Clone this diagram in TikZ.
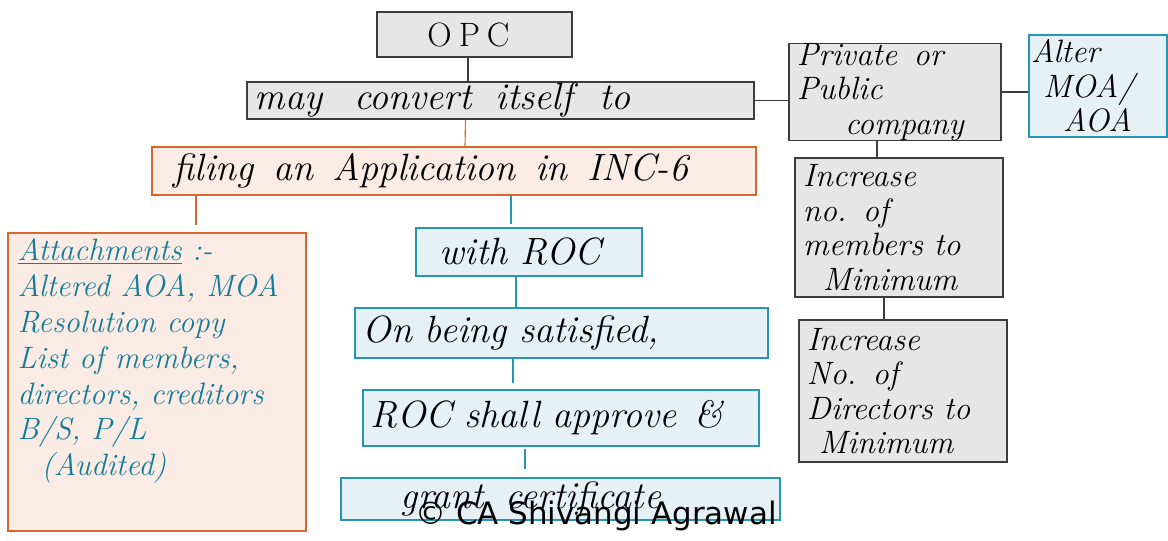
\documentclass[tikz,border=0pt]{standalone}
\usepackage{fontspec}
\usetikzlibrary{calc}

\newfontfamily\markfont{DejaVu Sans}
\newcommand\linefont{\itshape\fontsize{27}{29}\selectfont\addfontfeatures{LetterSpace=5}}
\newcommand\stackfont{\itshape\fontsize{23}{24.5}\selectfont\addfontfeatures{LetterSpace=10}}
\newcommand\listfont{\itshape\fontsize{22}{25.5}\selectfont\addfontfeatures{LetterSpace=5}}

\definecolor{boxgray}{HTML}{E6E6E6}
\definecolor{linegray}{HTML}{3C3C3C}
\definecolor{boxpeach}{HTML}{FAECE5}
\definecolor{lineorange}{HTML}{D6682D}
\definecolor{boxblue}{HTML}{E6F1F6}
\definecolor{lineblue}{HTML}{2596B5}
\definecolor{textteal}{HTML}{147C98}

\tikzset{
    graybox/.style={rectangle, draw=linegray, fill=boxgray, line width=0.9pt,
        inner xsep=0.2cm, inner ysep=0pt, align=left},
    peachbox/.style={graybox, draw=lineorange, fill=boxpeach},
    bluebox/.style={graybox, draw=lineblue, fill=boxblue},
    graylink/.style={draw=linegray, line width=0.8pt},
    orangelink/.style={draw=lineorange, line width=0.8pt},
    bluelink/.style={draw=lineblue, line width=0.8pt}
}

\begin{document}
\begin{tikzpicture}[x=0.025cm, y=-0.025cm]

    \useasboundingbox (0,0) rectangle (1168,540);

    % Left column: OPC and the steps of the conversion
    \node[graybox, align=center, minimum width=4.875cm, minimum height=1.125cm, font=\fontsize{24}{26}\selectfont] (opc) at (474.5,34.5) {\hspace{-0.3cm}O\hspace{5pt}P\hspace{5pt}C};
    \node[graybox, text width=12.275cm, minimum height=0.925cm, font=\linefont] (conv) at (500.5,100.5) {may\hspace{14pt} convert\hspace{8pt} itself\hspace{10pt} to};
    \node[peachbox, text width=14.7cm, minimum height=1.2cm, font=\linefont] (filing) at (454,171) {\hspace{0.35cm}filing\hspace{5pt} an\hspace{5pt} Application\hspace{5pt} in\hspace{5pt} INC-6};

    % Attachments box with its list
    \node[peachbox, minimum width=7.45cm, minimum height=7.45cm] (attach) at (157,382) {};
    \node[anchor=north west, align=left, text=textteal, inner sep=0pt, font=\listfont] (attachlist) at ($(attach.north west)+(10,6)$)
        {\underline{Attachments} :-\\
         Altered AOA, MOA\\
         Resolution copy\\
         List of members,\\
         directors, creditors\\
         B/S, P/L\\
         \hspace{0.6cm}(Audited)};

    % ROC steps
    \node[bluebox, text width=5.25cm, minimum height=1.2cm, font=\linefont] (roc) at (529,252) {\hspace{0.4cm}with ROC};
    \node[bluebox, text width=9.925cm, minimum height=1.25cm, font=\linefont] (satisf) at (561.5,333) {On being satisfied,};
    \node[bluebox, text width=9.5cm, minimum height=1.4cm, font=\linefont] (approve) at (561,418) {ROC shall approve\hspace{4pt} \&};
    \node[bluebox, text width=10.575cm, minimum height=1.05cm, font=\linefont] (grant) at (560.5,499) {\hspace{1.3cm}grant\hspace{6pt} certificate};

    % Right column: requirements
    \node[graybox, text width=4.9cm, minimum height=2.35cm, font=\stackfont] (private) at (895,92)
        {Private\hspace{4pt} or\\ Public\\ \hspace{1.2cm}company};
    \node[bluebox, inner xsep=0.05cm, text width=3.35cm, minimum height=2.55cm, font=\stackfont] (alter) at (1098,86)
        {Alter\\ \hspace{0.3cm}MOA/\\ \hspace{0.8cm}AOA};
    \node[graybox, text width=4.8cm, minimum height=3.475cm, font=\stackfont] (inc1) at (899,227.5)
        {Increase\\ no. of\\ members to\\ \hspace{0.5cm}Minimum};
    \node[graybox, text width=4.8cm, minimum height=3.55cm, font=\stackfont] (inc2) at (903,391)
        {Increase\\ No. of\\ Directors to\\ \hspace{0.3cm}Minimum};

    % Connectors
    \draw[graylink] ($(opc.south)+(-6.5,0)$) -- ($(conv.north)+(-32.5,0)$);
    \draw[orangelink] ($(conv.south)+(-35,0)$) -- ($(filing.north)+(11,0)$);
    \draw[orangelink] ($(filing.south)+(-258,0)$) -- ($(attach.north)+(39,-7)$);
    \draw[bluelink] ($(filing.south)+(57,0)$) -- ($(roc.north)+(-18,-3)$);
    \draw[bluelink] ($(roc.south)+(-13,0)$) -- ($(satisf.north)+(-45.5,0)$);
    \draw[bluelink] ($(satisf.south)+(-48.5,0)$) -- ($(approve.north)+(-48,-6)$);
    \draw[bluelink] ($(approve.south)+(-36,2)$) -- ($(grant.north)+(-35.5,-8)$);
    \draw[graylink] (conv.east) -- (conv.east -| private.west);
    \draw[graylink] (private.east) -- (private.east -| alter.west);
    \draw[graylink] ($(private.south)+(-18,0)$) -- ($(inc1.north)+(-22,0)$);
    \draw[graylink] ($(inc1.south)+(-15,0)$) -- ($(inc2.north)+(-19,0)$);

    % Watermark
    \node[font=\markfont\fontsize{22}{24}\selectfont, inner sep=0pt] (mark) at (596,516) {© CA Shivangi Agrawal};

\end{tikzpicture}
\end{document}
